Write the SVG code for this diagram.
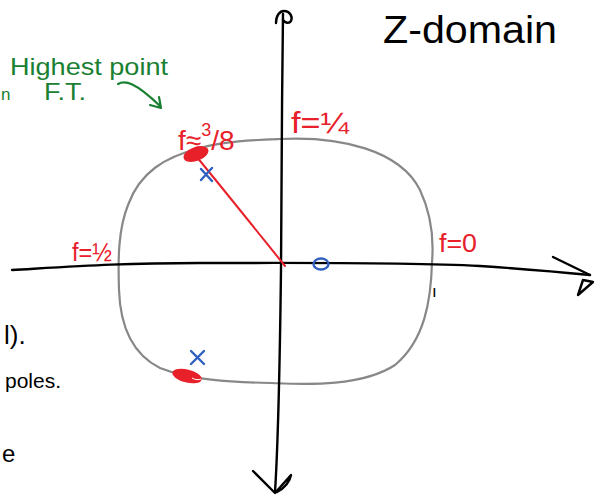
<svg xmlns="http://www.w3.org/2000/svg" width="604" height="497" viewBox="0 0 604 497">
<style>
.ink{fill:none;stroke:#000;stroke-width:2.4;stroke-linecap:round;stroke-linejoin:round}
.gray{fill:none;stroke:#888;stroke-width:2.2}
.red{fill:none;stroke:#e8202a;stroke-width:2;stroke-linecap:round}
.blue{fill:none;stroke:#2f5fbf;stroke-width:2.4;stroke-linecap:round}
.grn{fill:none;stroke:#1a8032;stroke-width:2.2;stroke-linecap:round;stroke-linejoin:round}
text{font-family:"Liberation Sans","DejaVu Sans",sans-serif}
.rt{fill:#e8202a}
.gt{fill:#1a8032}
.bt{fill:#000}
</style>
<rect width="604" height="497" fill="#fff"/>
<!-- unit circle -->
<path class="gray" d="M280,139 C340,136 400,150 420,190 C434,220 433,250 432,262 C431,300 425,340 395,365 C360,388 300,384 270,383 C230,382 190,380 160,368 C128,352 120,320 119,290 C118,260 118,230 128,205 C140,172 165,157 200,148 C225,141 255,140 280,139 Z"/>
<!-- axes -->
<g id="axes">
<path class="ink" d="M12,270 C80,266 120,263 200,263 C300,263 400,262 480,266 C540,270 570,273 590,275"/>
<path class="ink" d="M553,257 L590,275 M583,280 L593,282 L578,295 L583,280"/>
<path class="ink" d="M283,14 C282,100 281,200 281,270 C280,350 279,430 275,492"/>
<path class="ink" d="M276,23 C276,15 280,11 284,11 C290,11 293,17 291,21 C289,24 285,23 283,20"/>
<path class="ink" d="M253,471 L275,493 L291,475 C290,481 285,488 277,492"/>
</g>
<!-- red radius and blobs -->
<path class="red" d="M196,156 C220,185 260,235 285,266"/>
<ellipse cx="196" cy="154" rx="13" ry="7" transform="rotate(-20 196 154)" fill="#e8202a"/>
<ellipse cx="187" cy="376" rx="15" ry="6.5" transform="rotate(14 187 376)" fill="#e8202a"/>
<path d="M192,378 C195,380 199,380 201,379" stroke="#fff" stroke-width="1" fill="none"/>
<!-- poles / zero -->
<path class="blue" d="M201,169 L212,181 M212,168 L201,180"/>
<path class="blue" d="M191,351 L204,364 M204,351 L191,364"/>
<ellipse class="blue" cx="321" cy="264" rx="7.5" ry="5.5"/>
<!-- labels -->
<text class="rt" x="178" y="150" style="font-size:28px">f≈<tspan style="font-size:18px" dy="-14">3</tspan><tspan dy="14">/8</tspan></text>
<text class="rt" x="291" y="133" style="font-size:30px" textLength="58" lengthAdjust="spacingAndGlyphs">f=¼</text>
<text class="rt" x="72" y="261" style="font-size:26px" textLength="40" lengthAdjust="spacingAndGlyphs">f=½</text>
<text class="rt" x="439" y="252" style="font-size:25px" textLength="38" lengthAdjust="spacingAndGlyphs">f=0</text>
<text x="432" y="297" style="font-size:17px;fill:#000">ı</text>
<text x="383" y="43" style="font-size:38px;fill:#000" textLength="174" lengthAdjust="spacingAndGlyphs">Z-domain</text>
<text class="gt" x="10" y="75" style="font-size:24px" textLength="158" lengthAdjust="spacingAndGlyphs">Highest point</text>
<text class="gt" x="1" y="100" style="font-size:17px">n</text>
<text class="gt" x="44" y="100" style="font-size:24px" textLength="42" lengthAdjust="spacingAndGlyphs">F.T.</text>
<path class="grn" d="M118,84 C125,80 135,82 160,106 M150,105 L161,108 L159,97"/>
<text class="bt" x="4" y="344" style="font-size:26px">l).</text>
<text class="bt" x="5" y="388" style="font-size:21px">poles.</text>
<text class="bt" x="2" y="462" style="font-size:24px">e</text>
</svg>
